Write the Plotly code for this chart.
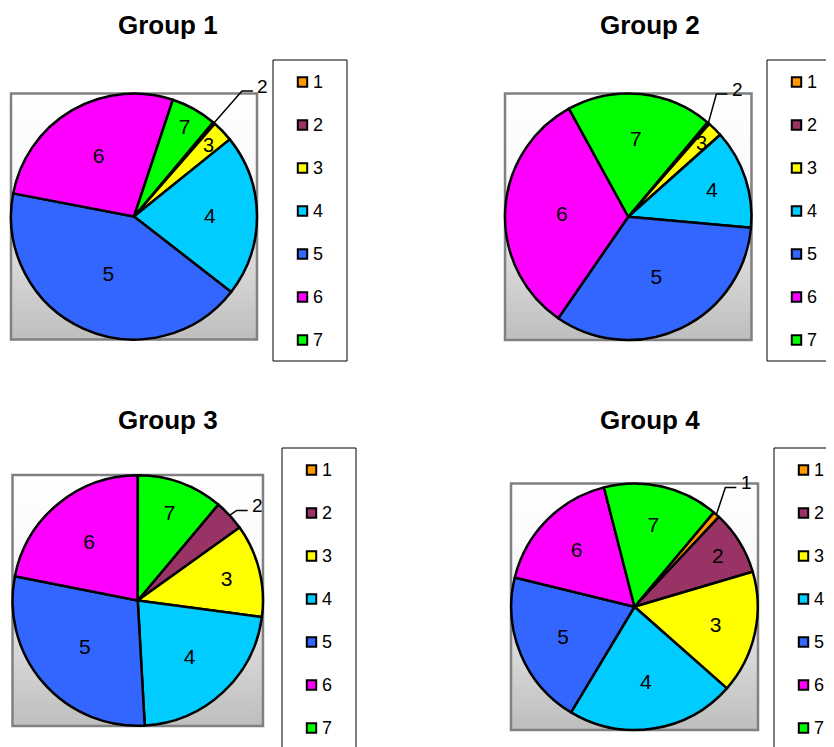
import math
import base64
import plotly.graph_objects as go

# ---------------- data ----------------
categories = ["1", "2", "3", "4", "5", "6", "7"]
slice_colors = ["#FF9900", "#993366", "#FFFF00", "#00CCFF", "#3366FF", "#FF00FF", "#00FF00"]
group_names = ["Group 1", "Group 2", "Group 3", "Group 4"]
group1_values = [0.0, 0.3, 2.8, 21.3, 42.5, 27.1, 6.0]
group2_values = [0.0, 0.3, 2.0, 13.0, 33.2, 32.4, 19.1]
group3_values = [0.0, 4.0, 12.0, 22.0, 29.0, 21.9, 11.1]
group4_values = [0.9, 8.4, 16.1, 22.1, 20.2, 17.2, 15.1]
all_values = [group1_values, group2_values, group3_values, group4_values]

# ---------------- layout constants (screen pixels of the photographed window) ----------------
W, H = 834, 747
PAGE_OFFSET = 8   # default body margin of the html page
SCALE = 1.0
FONT = "Liberation Sans, Arial, sans-serif"
ROTATION = 40
# pie boxes: x0, y0, x1, y1
pie_boxes = [
    (11, 93.5, 257, 339.5),
    (505, 93.5, 751.5, 340),
    (12.5, 475, 263, 726),
    (511, 483.5, 758, 730),
]
title_pos = [(168, 24.5), (650, 24.5), (168, 420), (650, 420)]
# legend boxes: left, top, width, height ; rows start LEG_FIRST below the top, ROW_GAP apart
legend_boxes = [(273, 60, 74, 301), (767, 60, 74, 301), (282, 448, 74, 301), (774, 448, 74, 301)]
LEG_FIRST = 22
ROW_GAP = 43
SWATCH_DX = 29.5
SWATCH = 9.4
TEXT_DX = 38
# slices labelled outside with a leader line: (slice index, label dx, label dy)
leader_cfg = [(1, 49, -37), (1, 29, -34), (1, 28, -10), (0, 30, -32)]
# thin slices whose label sits inside near the rim
rim_cfg = [[2], [2], [], []]


def px(x):
    return (x / SCALE - PAGE_OFFSET) / W


def py(y):
    return 1 - (y / SCALE - PAGE_OFFSET) / H


def fs(size):
    return size / SCALE


gradient_svg = (
    '<svg xmlns="http://www.w3.org/2000/svg" width="100" height="100" '
    'viewBox="0 0 100 100" preserveAspectRatio="none">'
    '<defs><linearGradient id="g" x1="0" y1="0" x2="0" y2="1">'
    '<stop offset="0" stop-color="#ffffff"/>'
    '<stop offset="0.3" stop-color="#fafafa"/>'
    '<stop offset="1" stop-color="#bebebe"/>'
    '</linearGradient></defs>'
    '<rect width="100" height="100" fill="url(#g)"/></svg>'
)
gradient_uri = "data:image/svg+xml;base64," + base64.b64encode(gradient_svg.encode()).decode()

fig = go.Figure()
annotations = []
shapes = []
images = []

for g, vals in enumerate(all_values):
    x0, y0, x1, y1 = pie_boxes[g]
    cx, cy = (x0 + x1) / 2, (y0 + y1) / 2
    r = min(x1 - x0, y1 - y0) / 2
    lead_idx, ldx, ldy = leader_cfg[g]
    hidden = set([lead_idx] + rim_cfg[g])
    textpos = [
        "none" if (i in hidden or v == 0) else "inside" for i, v in enumerate(vals)
    ]
    fig.add_trace(
        go.Pie(
            labels=categories,
            values=vals,
            textinfo="label",
            textposition=textpos,
            insidetextorientation="horizontal",
            insidetextfont=dict(family=FONT, size=fs(21), color="black"),
            marker=dict(colors=slice_colors, line=dict(color="black", width=2.5)),
            sort=False,
            direction="clockwise",
            rotation=ROTATION,
            domain=dict(x=[px(x0), px(x1)], y=[py(y1), py(y0)]),
            showlegend=False,
            hoverinfo="label+percent",
            name=group_names[g],
        )
    )

    # background gradient square and border
    images.append(dict(
        source=gradient_uri, xref="paper", yref="paper",
        x=px(x0), y=py(y0), sizex=px(x1) - px(x0), sizey=py(y0) - py(y1),
        xanchor="left", yanchor="top", sizing="stretch", layer="below",
    ))
    shapes.append(dict(
        type="rect", xref="paper", yref="paper",
        x0=px(x0), x1=px(x1), y0=py(y1), y1=py(y0),
        line=dict(color="#808080", width=2.5), fillcolor="rgba(0,0,0,0)", layer="below",
    ))

    # title
    tx, ty = title_pos[g]
    annotations.append(dict(
        text="<b>" + group_names[g] + "</b>", xref="paper", yref="paper",
        x=px(tx), y=py(ty), xanchor="center", yanchor="middle", showarrow=False,
        font=dict(family=FONT, size=fs(26), color="black"),
    ))

    # labels for thin slices, positioned from the slice angles
    total = sum(vals)
    cum = 0.0
    for i, v in enumerate(vals):
        mid = math.radians(ROTATION + 360.0 * (cum + v / 2) / total)
        cum += v
        if i == lead_idx:
            ex, ey = cx + r * math.sin(mid), cy - r * math.cos(mid)
            lx, ly = ex + ldx, ey + ldy
            end_x, end_y = lx - 10, ly + 5
            bend_x = end_x - 11
            shapes.append(dict(
                type="path", xref="paper", yref="paper",
                path="M %.5f %.5f L %.5f %.5f L %.5f %.5f" % (
                    px(ex), py(ey), px(bend_x), py(end_y), px(end_x), py(end_y)),
                line=dict(color="black", width=1.5), layer="above",
            ))
            annotations.append(dict(
                text=categories[i], xref="paper", yref="paper",
                x=px(lx), y=py(ly), xanchor="center", yanchor="middle", showarrow=False,
                font=dict(family=FONT, size=fs(19), color="black"),
            ))
        elif i in rim_cfg[g]:
            rr = 0.84 * r
            lx, ly = cx + rr * math.sin(mid), cy - rr * math.cos(mid)
            annotations.append(dict(
                text=categories[i], xref="paper", yref="paper",
                x=px(lx), y=py(ly), xanchor="center", yanchor="middle", showarrow=False,
                font=dict(family=FONT, size=fs(20), color="black"),
            ))

    # legend box with one row per category
    bl, bt, bw, bh = legend_boxes[g]
    shapes.append(dict(
        type="rect", xref="paper", yref="paper",
        x0=px(bl), x1=px(bl + bw), y0=py(bt + bh), y1=py(bt),
        line=dict(color="black", width=1), fillcolor="white", layer="below",
    ))
    for k, (cat, col) in enumerate(zip(categories, slice_colors)):
        ry = bt + LEG_FIRST + ROW_GAP * k
        sx = bl + SWATCH_DX
        shapes.append(dict(
            type="rect", xref="paper", yref="paper",
            x0=px(sx - SWATCH / 2), x1=px(sx + SWATCH / 2),
            y0=py(ry + SWATCH / 2), y1=py(ry - SWATCH / 2),
            line=dict(color="black", width=2), fillcolor=col, layer="above",
        ))
        annotations.append(dict(
            text=cat, xref="paper", yref="paper",
            x=px(bl + TEXT_DX), y=py(ry), xanchor="left", yanchor="middle", showarrow=False,
            font=dict(family=FONT, size=fs(18), color="black"),
        ))

fig.update_layout(
    width=W, height=H,
    margin=dict(l=0, r=0, t=0, b=0),
    paper_bgcolor="white", plot_bgcolor="white",
    showlegend=False,
    annotations=annotations, shapes=shapes, images=images,
)

fig.write_html("out.html")
